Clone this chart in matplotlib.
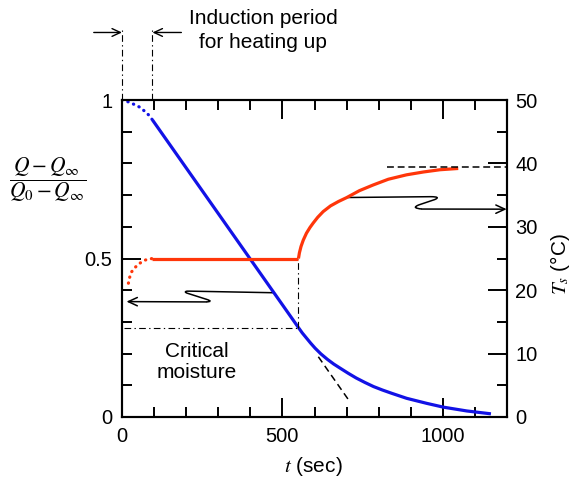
import matplotlib
matplotlib.use("Agg")
import matplotlib.pyplot as plt
from matplotlib.path import Path
from matplotlib.patches import PathPatch
from matplotlib.ticker import MultipleLocator, FixedLocator

plt.rcParams['font.family'] = ['Liberation Sans', 'DejaVu Sans']
plt.rcParams['mathtext.fontset'] = 'stix'

# ---- data ----
# moisture ratio (left axis)
t_induct_q = [0, 20, 38, 56, 69, 85, 95]
q_induct = [1.0, 0.994, 0.986, 0.977, 0.966, 0.951, 0.937]
t_const_q = [95, 550]
q_const = [0.937, 0.282]
t_fall = [550, 562, 575, 588, 602, 620, 640, 660, 680, 705, 730, 757, 784, 812, 840,
          887, 950, 1002, 1075, 1150]
q_fall = [0.282, 0.265, 0.249, 0.233, 0.217, 0.199, 0.182, 0.167, 0.154, 0.138, 0.123,
          0.109, 0.096, 0.085, 0.075, 0.059, 0.043, 0.031, 0.019, 0.010]
t_extrap = [612, 711]
q_extrap = [0.190, 0.047]
t_crit = 550
q_crit = 0.282

# surface temperature (right axis)
t_induct_T = [20, 23, 30, 41, 54, 69, 82, 95]
T_induct = [21.1, 21.9, 22.9, 23.6, 24.2, 24.7, 24.9, 25.0]
t_const_T = [95, 550]
T_const = [25.0, 25.0]
t_rise = [550, 553, 558, 565, 575, 586, 596, 610, 627, 650, 675, 700, 740, 783, 830,
          887, 940, 991, 1048]
T_rise = [25.0, 25.9, 26.9, 27.9, 29.0, 29.9, 30.6, 31.5, 32.4, 33.3, 34.0, 34.6, 35.7,
          36.6, 37.5, 38.2, 38.65, 39.0, 39.2]
t_eq = [826, 1200]
T_eq = [39.4, 39.4]
t_induction_end = 95

BLUE = '#1212e6'
RED = '#ff360a'
FS = 14.5
FT = 15

fig = plt.figure(figsize=(5.72, 4.82), dpi=100)
ax = fig.add_axes([122/572, 1-417/482, (507-122)/572, (417-100)/482])
ax2 = ax.twinx()

ax.set_xlim(0, 1200)
ax.set_ylim(0, 1)
ax2.set_ylim(0, 50)

dot = dict(linestyle=(0, (0.1, 1.8)), dash_capstyle='round', lw=2.3)
ax.plot(t_induct_q, q_induct, color=BLUE, **dot)
ax.plot(t_const_q, q_const, color=BLUE, lw=2.3, solid_capstyle='butt')
ax.plot(t_fall, q_fall, color=BLUE, lw=2.3, solid_capstyle='butt')
ax.plot(t_extrap, q_extrap, color='black', lw=1.1, linestyle=(0, (4.5, 2.8)))

ax2.plot(t_induct_T, T_induct, color=RED, **dot)
ax2.plot(t_const_T, T_const, color=RED, lw=2.3, solid_capstyle='butt')
ax2.plot(t_rise, T_rise, color=RED, lw=2.3, solid_capstyle='butt')
ax2.plot(t_eq, T_eq, color='black', lw=1.1, linestyle=(0, (4.5, 2.5)), clip_on=False)

dd = dict(color='black', lw=0.8, linestyle=(0, (6, 3, 1.2, 3)))
# critical point guide lines
ax.plot([5, t_crit], [q_crit, q_crit], **dd)
ax.plot([t_crit, t_crit], [q_crit, 0.5], **dd)

# induction period marks above the axes
trans = ax.get_xaxis_transform()
ax.plot([0, 0], [1.0, 1.222], transform=trans, clip_on=False, **dd)
ax.plot([t_induction_end, t_induction_end], [1.0, 1.222], transform=trans, clip_on=False, **dd)
arr = dict(arrowstyle='->,head_length=0.6,head_width=0.28', lw=1.0, color='black',
           shrinkA=0, shrinkB=0)
ax.annotate('', xy=(0, 1.213), xytext=(-88, 1.213), xycoords=trans, textcoords=trans,
            arrowprops=arr, annotation_clip=False)
ax.annotate('', xy=(t_induction_end, 1.213), xytext=(185, 1.213), xycoords=trans,
            textcoords=trans, arrowprops=arr, annotation_clip=False)

# squiggle arrows
arr2 = dict(arrowstyle='->,head_length=0.65,head_width=0.3', lw=1.1, color='black',
            shrinkA=0, shrinkB=0)
vl = [(472, 0.392), (212, 0.397), (188, 0.398), (202, 0.391), (264, 0.371),
      (286, 0.364), (262, 0.363)]
cl = [Path.MOVETO, Path.LINETO, Path.CURVE3, Path.CURVE3, Path.LINETO,
      Path.CURVE3, Path.CURVE3]
ax.add_patch(PathPatch(Path(vl, cl), fill=False, lw=1.1, color='black'))
ax.annotate('', xy=(14, 0.364), xytext=(262, 0.363), arrowprops=arr2)

vr = [(700, 34.62), (962, 34.75), (995, 34.75), (975, 34.3), (925, 33.45),
      (900, 32.95), (935, 32.8)]
ax2.add_patch(PathPatch(Path(vr, cl), fill=False, lw=1.1, color='black'))
ax2.annotate('', xy=(1199, 32.78), xytext=(935, 32.8), arrowprops=arr2,
             annotation_clip=False)

ax.text(234, 0.173, 'Critical\nmoisture', ha='center', va='center', fontsize=FT,
        linespacing=1.15)

# ticks
ax.xaxis.set_major_locator(FixedLocator([0, 500, 1000]))
ax.xaxis.set_minor_locator(MultipleLocator(100))
ax.yaxis.set_major_locator(FixedLocator([0, 0.5, 1]))
ax.yaxis.set_minor_locator(MultipleLocator(0.1))
ax.set_yticklabels(['0', '0.5', '1'])
ax2.yaxis.set_major_locator(MultipleLocator(10))
ax2.yaxis.set_minor_locator(MultipleLocator(5))

ax.tick_params(which='both', direction='in', top=True, right=False, width=1.4,
               labelsize=FS, colors='black')
ax.tick_params(which='major', length=13.5)
ax.tick_params(which='minor', length=7)
ax.tick_params(axis='x', pad=7)
ax.tick_params(axis='y', pad=7)
ax2.tick_params(which='both', direction='in', right=True, left=False, top=False,
                width=1.4, labelsize=FS, pad=6)
ax2.tick_params(which='major', length=13.5)
ax2.tick_params(which='minor', length=7)

for a in (ax, ax2):
    for s in a.spines.values():
        s.set_linewidth(1.5)

# labels
fig.text(313/572, 1-466/482, r'$t$ (sec)', ha='center', va='center', fontsize=FT)
fig.text(560/572, 1-264/482, r'$T_s$ (°C)', ha='center', va='center', fontsize=FT,
         rotation=90)
fig.text(48/572, 1-180/482, r'$\dfrac{Q-Q_\infty}{Q_0-Q_\infty}$', ha='center',
         va='center', fontsize=15.5)
fig.text(263/572, 1-18.5/482, 'Induction period', ha='center', va='center', fontsize=FT)
fig.text(263/572, 1-43/482, 'for heating up', ha='center', va='center', fontsize=FT)

fig.savefig('out.png', dpi=100)
